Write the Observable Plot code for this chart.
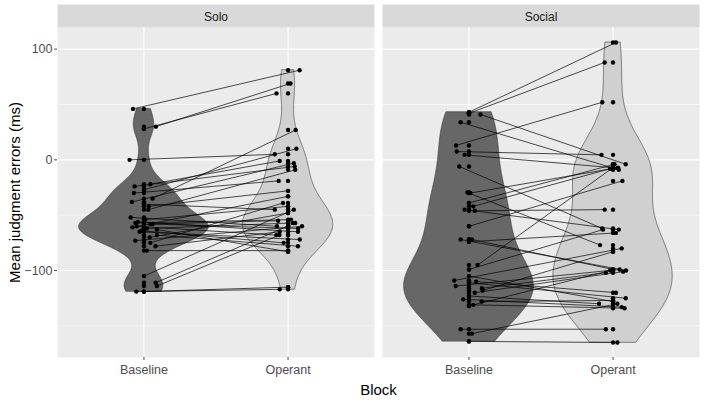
<!DOCTYPE html>
<html>
<head>
<meta charset="utf-8">
<script src="https://cdn.jsdelivr.net/npm/d3@7"></script>
<script src="https://cdn.jsdelivr.net/npm/@observablehq/plot@0.6"></script>
<style>
  html, body { margin: 0; padding: 0; background: #ffffff; }
  #chart { width: 708px; height: 402px; }
</style>
</head>
<body>
<div id="chart"></div>
<script>
const facets = ["Solo", "Social"];
const blocks = ["Baseline", "Operant"];
const yTicks = [-100, 0, 100];
const yMinorTicks = [-150, -50, 50];
const yLabel = "Mean judgment errors (ms)";
const xLabel = "Block";

// Solo facet: paired values per participant
const soloBaseline = [46, 30, 28, 0, -22, -24, -27, -30, -35, -38, -40, -42, -52, -54, -56, -58, -60, -62, -65, -68, -73, -75, -78, -82, -105, -111, -114, -119, -119, -63, -57, -45, -58, -64, -70, -61];
const soloOperant  = [81, 69, 60, 5, -1, -6, 10, -19, 27, -3, -45, -28, -60, -42, -65, -55, -68, -57, -72, -78, -60, -39, -65, -82, -45, -57, -68, -117, -115, -83, -54, -9, -62, -75, -48, -33];
const soloJitterB  = [-0.076, 0.083, 0.0, -0.10, 0.044, -0.065, 0.0, -0.07, 0.06, -0.083, 0.0, 0.033, -0.092, 0.01, -0.042, 0.044, -0.05, 0.02, -0.03, 0.09, -0.06, 0.044, 0.08, 0.02, 0.0, 0.081, 0.09, -0.053, 0.0, 0.09, -0.06, 0.03, 0.06, -0.02, 0.04, -0.08];
const soloJitterO  = [0.08, 0.017, -0.08, -0.092, -0.058, 0.046, 0.058, -0.065, 0.053, 0.04, -0.092, 0.0, -0.077, 0.0, 0.069, -0.069, -0.081, 0.035, 0.081, 0.069, 0.097, -0.035, -0.058, 0.0, 0.04, 0.05, -0.06, -0.058, 0.0, 0.0, 0.02, 0.05, 0.07, -0.03, 0.0, 0.0];

// Social facet: paired values per participant
const socialBaseline = [43, 42, 41, 34, 13, 7.5, 4.5, -6, -29.5, -30, -39, -42, -46, -60, -72, -74, -72, -95, -99, -109, -111, -114, -118, -123, -128, -131, -132, -153, -157, -164, -120, -45, -105, -116, -126, -110];
const socialOperant  = [106, 88, -4, -9, 52, 4.5, -7.5, -62, -77, -7, -4, -8, -45, -19, -100, -66, -99, -7, -63, -80, -125, -99, -83, -130, -127, -134, -100, -153, -130, -165, -101, -63, -128, -102, -133, -120];
const socialJitterB  = [0.0, 0.0, 0.08, -0.058, -0.09, -0.085, -0.03, -0.067, -0.01, 0.01, 0.0, 0.03, 0.04, 0.0, -0.058, 0.0, 0.02, 0.06, 0.0, -0.102, 0.0, -0.092, 0.095, 0.0, 0.088, 0.03, 0.0, -0.058, 0.02, 0.0, 0.04, -0.03, 0.0, 0.09, -0.04, 0.05];
const socialJitterO  = [0.02, -0.058, 0.088, 0.04, -0.075, -0.08, 0.03, -0.075, -0.09, 0.035, 0.01, -0.02, -0.058, 0.065, 0.09, 0.02, 0.0, 0.0, -0.07, 0.06, 0.088, 0.046, 0.0, -0.097, 0.0, 0.08, -0.02, -0.05, 0.03, 0.03, 0.07, 0.04, 0.0, -0.05, 0.06, 0.02];

// Build long table
const rows = [];
function addRows(facet, base, oper, jb, jo) {
  base.forEach((v, i) => {
    const id = facet + "-" + i;
    rows.push({facet, id, block: blocks[0], pos: 1, value: v, jitter: jb[i]});
    rows.push({facet, id, block: blocks[1], pos: 2, value: oper[i], jitter: jo[i]});
  });
}
addRows("Solo", soloBaseline, soloOperant, soloJitterB, soloJitterO);
addRows("Social", socialBaseline, socialOperant, socialJitterB, socialJitterO);

// Violin densities (gaussian KDE, bw.nrd0, trimmed, scale = "area" per panel)
function bwNrd0(x) {
  const s = d3.deviation(x);
  const sorted = x.slice().sort(d3.ascending);
  const iqr = d3.quantileSorted(sorted, 0.75) - d3.quantileSorted(sorted, 0.25);
  let lo = Math.min(s, iqr / 1.34);
  if (!(lo > 0)) lo = s || Math.abs(x[0]) || 1;
  return 0.9 * lo * Math.pow(x.length, -0.2);
}
function kde(x, n) {
  const bw = bwNrd0(x);
  const [mn, mx] = d3.extent(x);
  const out = [];
  for (let k = 0; k < n; k++) {
    const t = mn + (mx - mn) * k / (n - 1);
    let s = 0;
    for (const v of x) { const u = (t - v) / bw; s += Math.exp(-0.5 * u * u); }
    out.push({y: t, d: s / (x.length * bw * Math.sqrt(2 * Math.PI))});
  }
  return out;
}
const violin = [];
for (const f of facets) {
  const groups = blocks.map((b, bi) => ({b, pos: bi + 1, dens: kde(rows.filter(r => r.facet === f && r.block === b).map(r => r.value), 512)}));
  const maxD = d3.max(groups, g => d3.max(g.dens, p => p.d));
  for (const g of groups) {
    for (const p of g.dens) {
      const w = 0.45 * p.d / maxD;
      violin.push({facet: f, block: g.b, y: p.y, x1: g.pos - w, x2: g.pos + w});
    }
  }
}

const [vmin, vmax] = d3.extent(rows, r => r.value);
const pad = (vmax - vmin) * 0.05;

const plot = Plot.plot({
  width: 708,
  height: 402,
  marginLeft: 56,
  marginRight: 8,
  marginTop: 27,
  marginBottom: 45,
  style: {fontFamily: "Arial, 'Liberation Sans', sans-serif", fontSize: "12px", background: "#ffffff"},
  fx: {domain: facets, paddingInner: 0.0245, paddingOuter: 0},
  x: {domain: [0.4, 2.6]},
  y: {domain: [vmin - pad, vmax + pad]},
  color: {domain: blocks, range: ["#676767", "#D0D0D0"]},
  marks: [
    Plot.frame({fill: "#EBEBEB"}),
    Plot.frame({fill: "#D9D9D9", insetTop: -23, insetBottom: 330}),
    Plot.gridY(yMinorTicks, {stroke: "#ffffff", strokeOpacity: 1, strokeWidth: 0.55}),
    Plot.gridY(yTicks, {stroke: "#ffffff", strokeOpacity: 1, strokeWidth: 1.1}),
    Plot.gridX([1, 2], {stroke: "#ffffff", strokeOpacity: 1, strokeWidth: 1.1}),
    Plot.areaX(violin, {fx: "facet", y: "y", x1: "x1", x2: "x2", z: "block", fill: "block", stroke: "#333333", strokeWidth: 0.6}),
    Plot.line(rows, {fx: "facet", x: d => d.pos + d.jitter, y: "value", z: "id", stroke: "#000000", strokeWidth: 0.7}),
    Plot.dot(rows, {fx: "facet", x: "pos", y: "value", r: 2.2, fill: "#000000"}),
    Plot.dot(rows, {fx: "facet", x: d => d.pos + d.jitter, y: "value", r: 2.2, fill: "#000000"}),
    Plot.axisFx({anchor: "top", tickSize: 0, tickPadding: 7, label: null, fontSize: 12, color: "#1A1A1A"}),
    Plot.axisFx({anchor: "bottom", tickSize: 0, tickFormat: () => "", label: xLabel, labelAnchor: "center", labelOffset: 37, labelArrow: "none", fontSize: 15, color: "#000000"}),
    Plot.axisX({ticks: [1, 2], tickFormat: d => blocks[d - 1], tickSize: 3, tickPadding: 5, label: null, fontSize: 12.5, color: "#4D4D4D"}),
    Plot.axisY({ticks: yTicks, tickSize: 3, tickPadding: 2, label: null, fontSize: 12.5, color: "#4D4D4D"}),
    Plot.axisY({ticks: [], label: yLabel, labelAnchor: "center", labelOffset: 48, labelArrow: "none", fontSize: 15, color: "#000000"})
  ]
});
document.getElementById("chart").appendChild(plot);
</script>
</body>
</html>
